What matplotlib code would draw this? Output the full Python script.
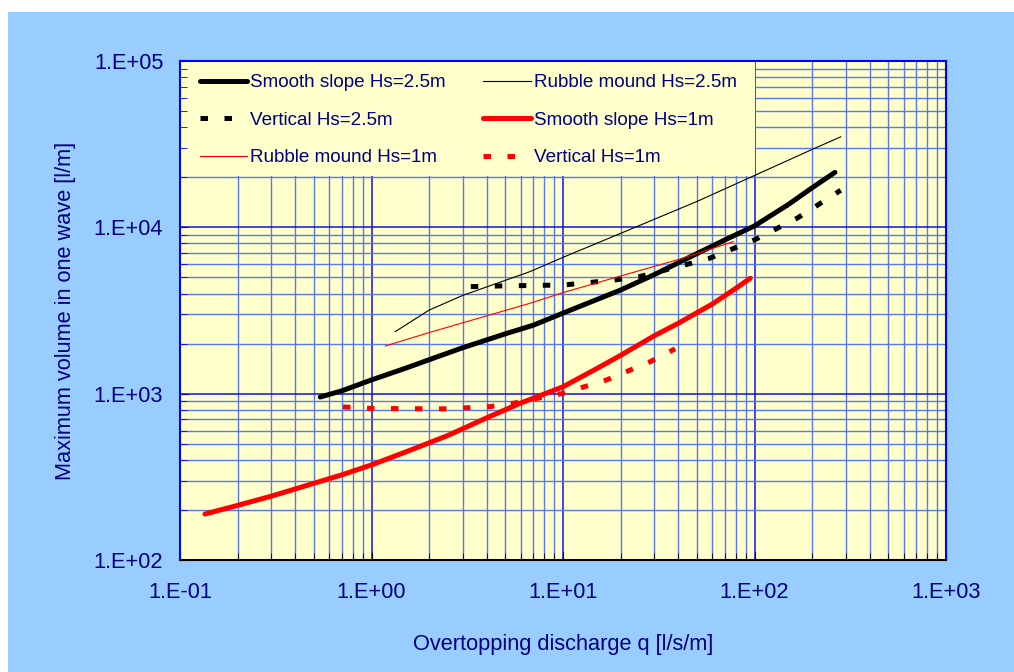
import numpy as np
import matplotlib
matplotlib.use("Agg")
import matplotlib.pyplot as plt
from matplotlib.patches import Rectangle
from matplotlib.ticker import LogLocator, NullFormatter, FixedLocator, FixedFormatter

plt.rcParams['font.family'] = ['Liberation Sans', 'DejaVu Sans']

# data (q in l/s/m, V in l/m)
smooth25_q = [0.54, 0.7, 1.0, 1.5, 2, 3, 5, 7, 10, 20, 30, 50, 70, 100, 150, 200, 263]
smooth25_v = [955, 1040, 1210, 1420, 1600, 1890, 2290, 2580, 3050, 4200, 5200, 6950,
              8400, 10200, 13700, 17300, 21400]

rubble25_q = [1.33, 2.0, 3.0, 6.7, 10, 20, 50, 100, 200, 282]
rubble25_v = [2360, 3180, 3900, 5410, 6600, 9200, 14300, 20500, 29400, 35000]

vert25_q = [3.3, 5, 10, 18, 25, 40, 58, 100, 166, 282]
vert25_v = [4400, 4450, 4500, 4800, 5050, 5800, 6500, 8400, 11300, 16700]

smooth1_q = [0.135, 0.2, 0.3, 0.5, 0.7, 1, 1.5, 2.5, 4, 6, 10, 15, 20, 30, 40, 60, 80, 95]
smooth1_v = [189, 213, 242, 289, 325, 373, 445, 560, 716, 877, 1100, 1415, 1700, 2230,
             2650, 3450, 4300, 4940]

rubble1_q = [1.18, 2.0, 6.7, 10, 20, 40, 77.6]
rubble1_v = [1935, 2330, 3490, 4050, 5100, 6400, 8200]

vert1_q = [0.71, 1.0, 2.36, 4.16, 5.5, 7.3, 10, 16.9, 28.5, 38.5]
vert1_v = [832, 815, 810, 836, 875, 937, 1005, 1210, 1555, 1860]

xticks = [0.1, 1, 10, 100, 1000]
xlabels = ['1.E-01', '1.E+00', '1.E+01', '1.E+02', '1.E+03']
yticks = [100, 1000, 10000, 100000]
ylabels = ['1.E+02', '1.E+03', '1.E+04', '1.E+05']

navy = '#000080'
fig = plt.figure(figsize=(10.14, 6.72), dpi=100, facecolor='white')
fig.patches.append(Rectangle((8 / 1014, 0), 1, 660 / 672, transform=fig.transFigure,
                             facecolor='#99CCFF', edgecolor='none', zorder=-10))

rect = [180 / 1014, 112 / 672, 766 / 1014, 499 / 672]


def setup(a):
    a.set_xscale('log')
    a.set_yscale('log')
    a.set_xlim(0.1, 1000)
    a.set_ylim(100, 100000)
    a.xaxis.set_major_locator(FixedLocator(xticks))
    a.yaxis.set_major_locator(FixedLocator(yticks))
    a.xaxis.set_minor_locator(LogLocator(base=10, subs=np.arange(2, 10)))
    a.yaxis.set_minor_locator(LogLocator(base=10, subs=np.arange(2, 10)))
    a.xaxis.set_minor_formatter(NullFormatter())
    a.yaxis.set_minor_formatter(NullFormatter())


# grid axes underneath
gax = fig.add_axes(rect, zorder=0)
setup(gax)
gax.set_facecolor('#FFFFCC')
gax.grid(which='major', color='#1010E8', lw=1.1)
gax.grid(which='minor', color='#5878F0', lw=1.0)
gax.tick_params(which='both', length=0, labelbottom=False, labelleft=False)
for s in gax.spines.values():
    s.set_visible(False)

ax = fig.add_axes(rect, zorder=1)
setup(ax)
ax.patch.set_alpha(0)
ax.xaxis.set_major_formatter(FixedFormatter(xlabels))
ax.yaxis.set_major_formatter(FixedFormatter(ylabels))

for s in ['left', 'top', 'right']:
    ax.spines[s].set_color('#0000FF')
    ax.spines[s].set_linewidth(1.5)
ax.spines['bottom'].set_color('black')
ax.spines['bottom'].set_linewidth(1.5)

ax.tick_params(axis='x', which='both', direction='in', colors='black',
               labelcolor=navy, labelsize=15.7, pad=16)
ax.tick_params(axis='y', which='both', direction='in', colors='#0000FF',
               labelcolor=navy, labelsize=15.7, pad=12)
ax.tick_params(which='major', length=6)
ax.tick_params(which='minor', length=5)

ax.set_xlabel('Overtopping discharge q [l/s/m]', color=navy, fontsize=15.7, labelpad=22)
ax.set_ylabel('Maximum volume in one wave [l/m]', color=navy, fontsize=15.7, labelpad=13)

# legend panel hides the grid at the top left
ax.add_patch(Rectangle((0, 1 - 115 / 499), 575 / 766, 115 / 499,
                       transform=ax.transAxes, facecolor='#FFFFCC', edgecolor='none',
                       zorder=0.6))

dash = (1.5, 3.3)
l1, = ax.plot(smooth25_q, smooth25_v, color='black', lw=3.6, solid_capstyle='round',
              label='Smooth slope Hs=2.5m', zorder=3)
l2, = ax.plot(rubble25_q, rubble25_v, color='black', lw=0.8,
              label='Rubble mound Hs=2.5m', zorder=3)
l3, = ax.plot(vert25_q, vert25_v, color='black', lw=3.6, dashes=dash,
              label='Vertical Hs=2.5m', zorder=3)
l4, = ax.plot(smooth1_q, smooth1_v, color='#FF0000', lw=3.6, solid_capstyle='round',
              label='Smooth slope Hs=1m', zorder=3)
l5, = ax.plot(rubble1_q, rubble1_v, color='#FF0000', lw=0.8,
              label='Rubble mound Hs=1m', zorder=3)
l6, = ax.plot(vert1_q, vert1_v, color='#FF0000', lw=3.6, dashes=dash,
              label='Vertical Hs=1m', zorder=3)

leg = ax.legend(handles=[l1, l3, l5, l2, l4, l6], ncol=2, loc='upper left',
                bbox_to_anchor=(20 / 766, 1 - 13 / 499), frameon=False, borderpad=0,
                borderaxespad=0, fontsize=13.6, handlelength=2.5, handletextpad=0.15,
                columnspacing=2.0, labelspacing=1.08, labelcolor=navy)

fig.savefig('out.png', dpi=100, facecolor=fig.get_facecolor())
